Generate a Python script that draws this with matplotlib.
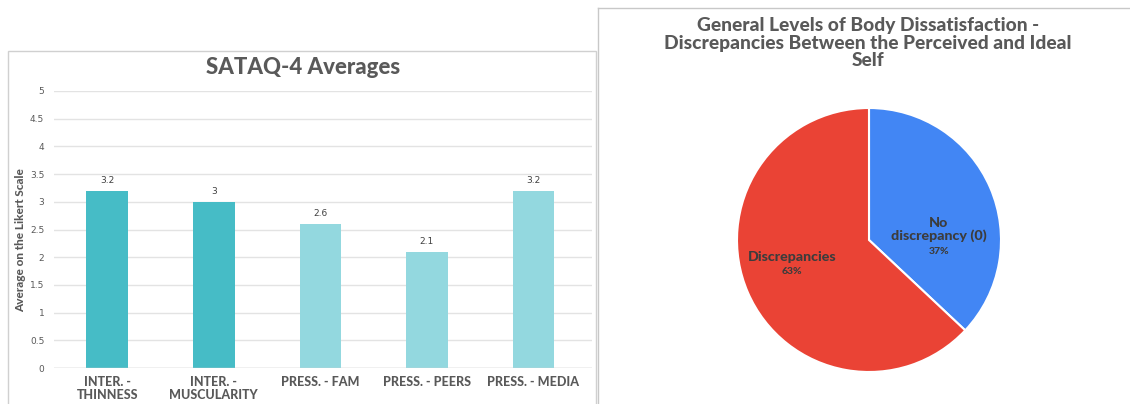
import numpy as np
import matplotlib
matplotlib.use('Agg')
import matplotlib.pyplot as plt
from matplotlib.patches import Rectangle
from matplotlib.lines import Line2D

plt.rcParams['font.family'] = ['Lato', 'DejaVu Sans']

# SATAQ-4 subscale averages
categories = ['INTER. -\nTHINNESS', 'INTER. -\nMUSCULARITY', 'PRESS. - FAM', 'PRESS. - PEERS', 'PRESS. - MEDIA']
averages = [3.2, 3.0, 2.6, 2.1, 3.2]
value_labels = ['3.2', '3', '2.6', '2.1', '3.2']
bar_colors = ['#46bcc6', '#46bcc6', '#93d8df', '#93d8df', '#93d8df']

# body dissatisfaction split
pie_labels = ['No\ndiscrepancy (0)', 'Discrepancies']
pie_shares = [37, 63]
pie_colors = ['#4286f4', '#ea4335']

text_grey = '#595959'
W, H = 1130, 404

fig = plt.figure(figsize=(W / 100, H / 100), dpi=100)

def px(x0, y0, x1, y1):
    # pixel box (top-left origin) -> figure fraction rect
    return [x0 / W, 1 - y1 / H, (x1 - x0) / W, (y1 - y0) / H]

# panel borders
fig.add_artist(Rectangle((8 / W, -0.01), 588 / W, 1 - 51 / H + 0.01, transform=fig.transFigure,
                         fill=False, edgecolor='#d0d0d0', lw=1))
fig.add_artist(Line2D([598 / W, 598 / W], [0, 1 - 8 / H], transform=fig.transFigure, color='#c8c8c8', lw=1))
fig.add_artist(Line2D([598 / W, 1], [1 - 8 / H, 1 - 8 / H], transform=fig.transFigure, color='#c8c8c8', lw=1))

# bar chart
ax = fig.add_axes(px(54, 91, 592, 368))
x = np.arange(len(categories))
bars = ax.bar(x, averages, width=0.39, color=bar_colors, zorder=3)
for b, lab in zip(bars, value_labels):
    ax.text(b.get_x() + b.get_width() / 2, b.get_height() + 0.1, lab, ha='center', va='bottom',
            fontsize=6.5, color='#404040', family='DejaVu Sans')
ax.set_xlim(-0.5, 4.55)
ax.set_ylim(0, 5)
ax.set_yticks(np.arange(0, 5.01, 0.5))
ax.set_yticklabels(['0', '0.5', '1', '1.5', '2', '2.5', '3', '3.5', '4', '4.5', '5'],
                   fontsize=6.5, color=text_grey, family='DejaVu Sans')
ax.set_xticks(x)
ax.set_xticklabels(categories, fontsize=9, fontweight='black', color=text_grey, linespacing=1.1)
ax.tick_params(length=0, pad=6)
ax.tick_params(axis='y', pad=7)
ax.grid(axis='y', color='#e3e3e3', lw=1, zorder=0)
ax.axhline(0, color='#d0d0d0', lw=1, zorder=4)
for s in ax.spines.values():
    s.set_visible(False)
fig.text(21 / W, 1 - 240 / H, 'Average on the Likert Scale', rotation=90, ha='center', va='center',
         fontsize=8.5, fontweight='black', color=text_grey)
fig.text(303 / W, 1 - 68 / H, 'SATAQ-4 Averages', ha='center', va='center',
         fontsize=16, fontweight='black', color=text_grey)

# pie chart
pax = fig.add_axes(px(737, 108, 1001, 372))
wedges, _ = pax.pie(pie_shares, colors=pie_colors, startangle=90, counterclock=False,
                    wedgeprops=dict(edgecolor='white', linewidth=1.5))
pax.set_xlim(-1, 1)
pax.set_ylim(-1, 1)
pax.set_aspect('equal')
# (label block centre x, y, percentage y)
label_pos = [(0.53, 0.08, -0.09), (-0.583, -0.129, -0.242)]
for (lx, ly, py), lab, share in zip(label_pos, pie_labels, pie_shares):
    pax.text(lx, ly, lab, ha='center', va='center', fontsize=10.3, fontweight='black',
             color='#3c3c3c', linespacing=1.05)
    pax.text(lx, py, f'{share}%', ha='center', va='center', fontsize=7.5, fontweight='black',
             color='#3c3c3c')
fig.text(868 / W, 1 - 43 / H,
         'General Levels of Body Dissatisfaction -\nDiscrepancies Between the Perceived and Ideal\nSelf',
         ha='center', va='center', fontsize=13.8, fontweight='black', color=text_grey, linespacing=1.0)

fig.savefig('out.png', dpi=100, facecolor='white')
